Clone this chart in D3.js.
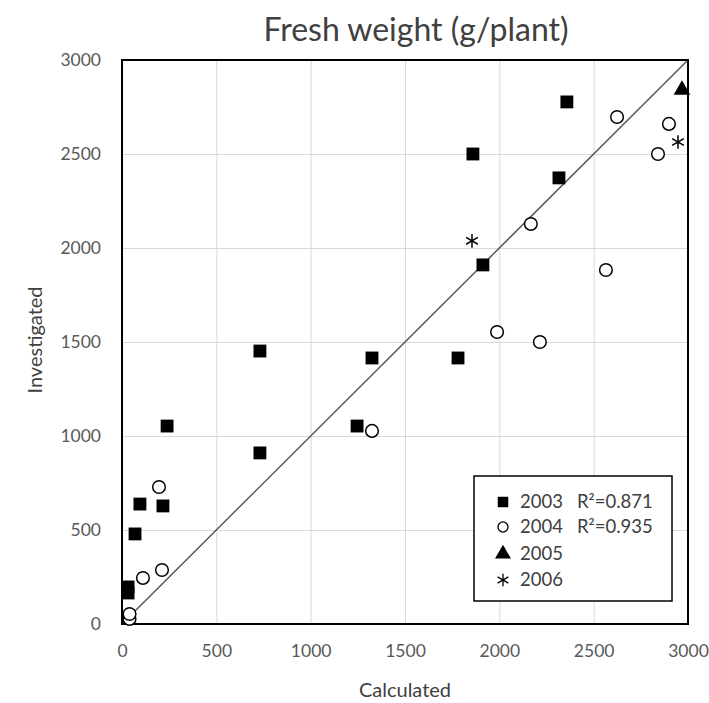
<!DOCTYPE html>
<html>
<head>
<meta charset="utf-8">
<script src="https://cdn.jsdelivr.net/npm/d3@7"></script>
<style>
  body { margin: 0; background: #fff; }
  text { font-family: Lato, "Open Sans", sans-serif; }
</style>
</head>
<body>
<svg id="chart" width="709" height="703"></svg>
<script>
// calculated vs investigated, [x, y]
var s2003 = [[32,197],[32,165],[69,479],[95,638],[217,628],[239,1053],[731,910],[731,1452],
  [1246,1053],[1325,1415],[1781,1415],[1913,1910],[1860,2500],[2316,2373],[2358,2777]]
var s2004 = [[40,27],[40,53],[111,245],[212,287],[196,729],[1325,1027],[1988,1553],[2215,1500],
  [2167,2128],[2565,1883],[2624,2697],[2841,2500],[2899,2660]]
var s2005 = [[2968,2841]]
var s2006 = [[1855,2038],[2947,2564]]
var ticks = [0, 500, 1000, 1500, 2000, 2500, 3000]
var legendLabels = ["2003", "2004", "2005", "2006"]
var r2Labels = ["R\u00b2=0.871", "R\u00b2=0.935", "", ""]

var pLeft = 122, pRight = 688, pTop = 60, pBottom = 624
var w = pRight - pLeft, h = pBottom - pTop

var svg = d3.select('#chart')
var x = d3.scaleLinear().domain([0, 3000]).range([pLeft, pRight])
var y = d3.scaleLinear().domain([0, 3000]).range([pBottom, pTop])

// grid + tick labels
var gx = svg.append('g').attr('transform', 'translate(0,' + pBottom + ')')
  .call(d3.axisBottom(x).tickValues(ticks).tickFormat(d3.format('d')).tickSize(-h).tickPadding(21))
var gy = svg.append('g').attr('transform', 'translate(' + pLeft + ',0)')
  .call(d3.axisLeft(y).tickValues(ticks).tickFormat(d3.format('d')).tickSize(-w).tickPadding(21))
gx.select('.domain').remove()
gy.select('.domain').remove()
svg.selectAll('.tick line').attr('stroke', '#d9d9d9').attr('stroke-width', 1)
svg.selectAll('.tick text').attr('fill', '#595959').style('font-size', '17.5px')

// 1:1 line
svg.append('line')
  .attr('x1', x(0)).attr('y1', y(0)).attr('x2', x(3000)).attr('y2', y(3000))
  .attr('stroke', '#595959').attr('stroke-width', 1.5)

// plot border
svg.append('rect').attr('x', pLeft).attr('y', pTop).attr('width', w).attr('height', h)
  .attr('fill', 'none').attr('stroke', '#000').attr('stroke-width', 2)

var sq = d3.symbol().type(d3.symbolSquare).size(165)
var ci = d3.symbol().type(d3.symbolCircle).size(125)
var tri = d3.symbol().type(d3.symbolTriangle).size(120)
var ast = d3.symbol().type(d3.symbolAsterisk).size(130)

function plot(data, sym, fill, stroke) {
  svg.append('g').selectAll('path').data(data).enter().append('path')
    .attr('transform', d => 'translate(' + x(d[0]) + ',' + y(d[1]) + ')')
    .attr('d', sym)
    .attr('fill', fill).attr('stroke', stroke).attr('stroke-width', 1.5)
}
plot(s2003, sq, '#000', 'none')
plot(s2004, ci, '#fff', '#000')
plot(s2005, tri, '#000', 'none')
plot(s2006, ast, 'none', '#000')

// legend
svg.append('rect').attr('x', 474).attr('y', 476).attr('width', 198).attr('height', 125)
  .attr('fill', '#fff').attr('stroke', '#000').attr('stroke-width', 1.5)
var syms = [[sq, '#000', 'none'], [ci, '#fff', '#000'], [tri, '#000', 'none'], [ast, 'none', '#000']]
var lg = svg.append('g').selectAll('g').data(legendLabels).enter().append('g')
  .attr('transform', (d, i) => 'translate(503,' + [502, 527, 554, 580][i] + ')')
lg.append('path')
  .attr('d', (d, i) => syms[i][0].size(i == 1 ? 80 : 110)())
  .attr('fill', (d, i) => syms[i][1]).attr('stroke', (d, i) => syms[i][2]).attr('stroke-width', 1.3)
lg.append('text').attr('x', 17).attr('y', 6).text(d => d)
  .attr('fill', '#404040').style('font-size', '18.5px')
lg.append('text').attr('x', 74).attr('y', 6).text((d, i) => r2Labels[i])
  .attr('fill', '#404040').style('font-size', '18.5px')

// titles
svg.append('text').attr('x', 416).attr('y', 41).attr('text-anchor', 'middle')
  .text('Fresh weight (g/plant)').attr('fill', '#404040').style('font-size', '32px')
svg.append('text').attr('x', 405).attr('y', 697).attr('text-anchor', 'middle')
  .text('Calculated').attr('fill', '#404040').style('font-size', '20px')
svg.append('text').attr('transform', 'translate(42,340) rotate(-90)').attr('text-anchor', 'middle')
  .text('Investigated').attr('fill', '#404040').style('font-size', '20px')
</script>
</body>
</html>
